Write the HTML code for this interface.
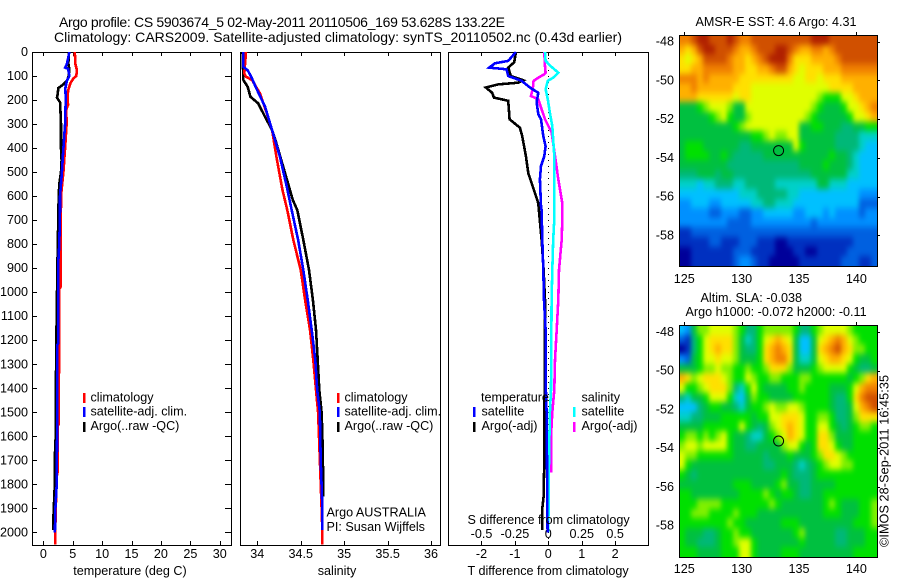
<!DOCTYPE html>
<html>
<head>
<meta charset="utf-8">
<title>Argo profile</title>
<style>
html,body{margin:0;padding:0;background:#fff;}
svg{display:block;}
text{font-family:"Liberation Sans",sans-serif;font-size:12.6px;fill:#000;}
.t{font-size:14px;}
</style>
</head>
<body>
<svg id="chart" xmlns="http://www.w3.org/2000/svg" width="900" height="580" viewBox="0 0 900 580">
<defs>
<filter id="mapBlur" color-interpolation-filters="sRGB" x="-5%" y="-5%" width="110%" height="110%"><feGaussianBlur stdDeviation="2.4 3.2"/></filter>
<clipPath id="clip-sst-map"><rect x="679" y="35" width="198" height="231"/></clipPath>
<clipPath id="clip-sla-map"><rect x="679" y="325" width="198" height="232"/></clipPath>
</defs>
<text class="t" x="59" y="27" textLength="446">Argo profile: CS 5903674_5 02-May-2011 20110506_169 53.628S 133.22E</text>
<text class="t" x="54" y="42" textLength="568">Climatology: CARS2009. Satellite-adjusted climatology: synTS_20110502.nc (0.43d earlier)</text>
<g id="maps"></g>
<g id="panels"></g>
<g>
<text x="90.5" y="401.5">climatology</text>
<text x="90.5" y="415.5">satellite-adj. clim.</text>
<text x="90.5" y="430">Argo(..raw -QC)</text>
<rect x="83" y="393" width="2.5" height="10" fill="#f00"/>
<rect x="83" y="407" width="2.5" height="10" fill="#00f"/>
<rect x="83" y="422" width="2.5" height="10" fill="#000"/>
</g>
<g>
<text x="344.5" y="401.5">climatology</text>
<text x="344.5" y="415.5">satellite-adj. clim.</text>
<text x="344.5" y="430">Argo(..raw -QC)</text>
<rect x="337" y="393" width="2.5" height="10" fill="#f00"/>
<rect x="337" y="407" width="2.5" height="10" fill="#00f"/>
<rect x="337" y="422" width="2.5" height="10" fill="#000"/>
<text x="326.5" y="516.5">Argo AUSTRALIA</text>
<text x="326.5" y="531">PI: Susan Wijffels</text>
</g>
<g>
<text x="481" y="401.5">temperature</text>
<text x="481.5" y="415.5">satellite</text>
<text x="481.5" y="430">Argo(-adj)</text>
<rect x="473" y="407" width="2.5" height="10" fill="#00f"/>
<rect x="473" y="422" width="2.5" height="10" fill="#000"/>
<text x="581.5" y="401.5">salinity</text>
<text x="581.5" y="415.5">satellite</text>
<text x="581.5" y="430">Argo(-adj)</text>
<rect x="573" y="407" width="2.5" height="10" fill="#0ff"/>
<rect x="573" y="422" width="2.5" height="10" fill="#f0f"/>
<text x="467.5" y="524">S difference from climatology</text>
</g>
<text x="130" y="575" text-anchor="middle">temperature (deg C)</text>
<text x="337" y="575" text-anchor="middle">salinity</text>
<text x="467.5" y="575">T difference from climatology</text>
<text x="776" y="26" text-anchor="middle">AMSR-E SST: 4.6 Argo: 4.31</text>
<text x="700.5" y="302">Altim. SLA: -0.038</text>
<text x="685.5" y="316">Argo h1000: -0.072 h2000: -0.11</text>
<text x="0" y="0" textLength="172" transform="translate(888.5,547) rotate(-90)">©IMOS 28-Sep-2011 16:45:35</text>
</svg>
<script>
// ---- depth axis ----
const depthTicks = [0,100,200,300,400,500,600,700,800,900,1000,1100,1200,1300,1400,1500,1600,1700,1800,1900,2000];
// ---- temperature panel ----
const tempTicks = [0,5,10,15,20,25,30];
const tempClimDepth = [0,50,75,100,110,130,160,200,220,240,300,400,500,600,978,985,1250,1500,1550,1560,1750,1770,2000,2050];
const tempClim = [5.35,5.45,5.7,5.6,5.1,4.6,4.2,4.1,4.2,3.9,3.95,3.7,3.4,3.0,2.94,2.7,2.67,2.6,2.6,2.4,2.4,2.25,2.0,2.0];
const tempSatDepth = [0,50,65,70,100,120,150,200,300,400,500,600,660,800,866,1212,1220,1490,1800,1900,2000];
const tempSat = [4.43,4.0,3.7,4.2,4.43,4.0,3.74,3.8,3.7,3.4,3.14,2.83,2.83,2.7,2.55,2.55,2.37,2.37,2.27,2.05,1.95];
const tempArgoDepth = [0,50,70,100,120,135,150,180,190,210,300,400,450,500,550,600,866,1212,1500,1600,1700,1810,1940,1990];
const tempArgo = [4.3,4.25,4.4,4.3,4.0,3.4,2.56,2.4,2.3,2.85,3.0,3.0,3.1,3.0,2.7,2.6,2.4,2.2,2.09,2.09,1.92,1.92,1.7,1.7];
// ---- salinity panel ----
const salTicks = [34,34.5,35,35.5,36];
const salClimDepth = [0,89,103,117,172,256,325,436,575,658,782,907,1032,1157,1282,1407,1500,1600,1750,1900,2000,2050];
const salClim = [33.87,33.85,33.87,33.94,34.03,34.11,34.17,34.22,34.29,34.345,34.415,34.5,34.55,34.607,34.645,34.676,34.70,34.71,34.725,34.74,34.75,34.75];
const salSatDepth = [0,62,76,103,145,228,325,436,561,658,782,907,1032,1157,1282,1407,1500,1700,1900,1990];
const salSat = [33.84,33.84,33.89,33.93,33.98,34.09,34.17,34.26,34.34,34.396,34.47,34.53,34.58,34.626,34.668,34.69,34.72,34.73,34.75,34.75];
const salArgoDepth = [0,117,145,186,214,270,325,367,505,617,658,782,907,1032,1157,1282,1407,1500,1600,1800,1850];
const salArgo = [33.83,33.84,33.89,33.92,34.01,34.09,34.17,34.21,34.32,34.41,34.46,34.53,34.595,34.64,34.676,34.695,34.714,34.74,34.75,34.76,34.76];
// ---- difference panel ----
const diffTTicks = [-2,-1,0,1,2];
const diffSTicks = ["-0.5","-0.25","0","0.25","0.5"];
const diffSatDepth = [0,37,47,65,72,100,120,148,170,210,258,280,350,392,433,475,530,641,658,782,907,1032,1157,1366,1500,1700,1900,2000];
const diffTSat = [-0.97,-1.2,-1.6,-1.77,-1.25,-1.2,-0.8,-0.55,-0.3,-0.35,-0.3,-0.22,-0.15,-0.08,-0.12,-0.22,-0.25,-0.22,-0.2,-0.18,-0.15,-0.13,-0.08,-0.08,-0.05,-0.04,-0.03,-0.02];
const diffArgoDepth = [0,43,65,100,118,128,135,148,170,190,203,280,315,350,433,505,561,630,658,782,907,1032,1366,1500,1700,1850,1900,1990];
const diffTArgo = [-0.97,-1.02,-1.2,-1.12,-0.75,-0.9,-1.5,-1.87,-1.68,-1.63,-1.2,-1.16,-0.85,-0.78,-0.67,-0.6,-0.46,-0.3,-0.28,-0.2,-0.14,-0.1,-0.1,-0.12,-0.12,-0.14,-0.18,-0.18];
const diffSSatDepth = [0,37,60,86,107,120,155,197,253,308,433,697,782,907,1032,1407,1500,1700,2000];
const diffSSat = [-0.025,-0.02,0.02,0.075,0.037,-0.004,-0.02,-0.004,0.012,0.03,0.045,0.045,0.037,0.03,0.025,0.02,0.012,0.005,0.0];
const diffSArgoDepth = [0,60,86,93,107,120,155,183,197,238,280,335,433,530,630,697,782,907,1032,1157,1282,1407,1500,1600,1750];
const diffSArgo = [-0.03,-0.025,-0.02,-0.03,-0.075,-0.11,-0.117,-0.13,-0.075,-0.05,-0.025,0.025,0.05,0.075,0.105,0.105,0.1,0.08,0.075,0.063,0.05,0.045,0.03,0.02,0.02];
// ---- map axes ----
const mapLonTicks = [125,130,135,140];
const mapLatTicks = [-48,-50,-52,-54,-56,-58];
const argoLon = 133.22;
const argoLat = -53.628;
// ---- map values: colour level per grid cell, north to south ----
const sstLevels = [
[13,13,14,15,15,14,14,14,15,14,13,13,14,14,14,14,14,14,14,14,14,14,15,15,15,14,14,14,14,14,14,14,14],
[12,11,12,14,15,15,14,14,14,13,12,12,13,14,14,14,15,15,14,13,12,12,13,13,12,13,14,14,14,14,14,14,14],
[11,10,11,12,14,14,14,14,13,12,12,11,12,13,14,15,15,15,13,11,11,11,12,12,12,12,13,14,14,14,14,14,14],
[11,11,12,12,13,13,13,13,13,12,12,11,11,12,12,13,14,14,12,11,10,11,11,11,12,12,12,13,13,13,13,13,13],
[13,13,13,12,13,12,12,12,12,12,11,11,11,11,11,11,11,11,11,10,10,11,11,10,11,11,11,12,12,12,12,12,12],
[12,12,13,12,12,12,12,12,12,11,11,11,10,10,10,10,10,10,10,10,10,10,10,10,10,11,11,11,11,12,12,12,12],
[12,12,12,11,11,11,11,11,11,10,11,11,10,10,10,10,10,10,10,10,10,10,10,9,8,8,8,10,10,11,12,12,12],
[7,7,7,8,9,10,10,10,9,7,7,10,10,10,10,10,10,10,10,10,10,10,9,8,7,7,7,8,10,10,11,12,13],
[7,7,7,7,7,8,9,10,8,7,7,9,10,10,10,10,10,10,10,10,10,9,8,7,7,7,7,7,8,10,10,11,12],
[7,7,7,7,7,7,7,7,7,8,9,10,10,10,10,10,10,10,10,10,7,7,8,8,7,7,7,6,6,7,7,8,8],
[7,7,7,7,7,7,7,7,7,7,7,7,8,8,9,10,9,9,10,10,7,7,7,7,7,7,6,6,6,6,5,5,5],
[7,8,8,8,7,7,7,7,7,7,6,6,7,7,7,7,7,7,7,10,8,7,7,7,7,7,6,6,6,6,5,4,4],
[7,8,8,8,8,7,7,8,7,6,6,6,6,6,7,7,7,7,7,7,7,7,7,7,7,8,7,7,6,5,4,4,4],
[7,7,7,7,7,7,7,7,6,6,6,6,6,6,6,6,6,6,6,6,7,7,7,7,8,7,7,7,6,5,4,4,4],
[6,6,6,7,7,7,6,7,7,6,6,6,6,6,6,6,6,6,6,6,6,6,7,7,7,7,7,7,5,5,4,4,4],
[5,5,5,4,5,5,6,6,6,5,5,6,6,6,6,6,5,5,5,5,5,5,5,7,7,5,5,5,4,4,4,4,4],
[4,4,4,4,4,4,4,4,4,4,5,5,5,6,6,6,6,6,5,5,4,4,4,4,4,4,4,4,4,4,3,3,3],
[3,3,4,4,4,3,3,4,4,4,4,4,5,5,6,6,5,5,5,4,4,4,4,4,4,4,4,4,4,4,2,2,2],
[3,3,3,3,3,2,2,3,3,3,2,2,3,3,4,4,4,4,4,3,3,4,4,4,3,4,3,3,3,3,2,3,3],
[3,3,3,3,3,3,3,3,2,2,2,2,3,3,3,3,3,3,3,3,3,3,2,3,3,3,3,3,3,3,3,3,3],
[1,1,2,2,2,2,2,2,2,2,2,2,2,2,2,2,2,2,2,2,2,2,2,2,2,2,2,2,2,2,2,2,2],
[1,1,1,1,1,2,2,1,1,1,2,2,2,1,1,1,0,0,1,1,1,1,1,1,1,1,1,1,1,2,2,2,2],
[0,0,1,1,1,1,1,1,1,2,2,2,1,1,1,1,0,0,0,1,1,0,0,1,1,1,1,1,2,2,2,2,2],
[0,0,1,1,1,1,1,1,1,2,3,3,2,1,1,0,0,0,0,0,1,1,1,1,1,1,1,2,2,2,1,1,2]
];
const slaLevels = [
[4,3,7,9,9,10,10,10,10,9,8,6,6,8,9,9,9,9,9,8,6,6,8,9,10,10,10,10,9,8,8,8,8],
[2,1,6,8,10,11,11,11,11,9,7,5,6,8,10,11,12,11,10,7,4,4,7,10,11,12,13,12,10,9,8,8,8],
[0,1,6,8,10,11,12,11,11,9,7,6,6,8,11,12,13,12,11,7,4,4,7,11,12,13,14,12,11,9,9,8,8],
[3,2,7,8,10,10,11,10,10,9,7,7,7,8,11,12,13,13,11,7,5,5,7,10,11,12,12,11,10,8,7,7,8],
[7,7,7,8,9,9,10,9,9,8,8,9,8,8,9,11,11,11,9,7,7,7,8,9,10,10,10,10,8,7,6,6,7],
[12,11,9,10,11,11,11,10,9,8,8,10,9,8,8,9,9,8,8,8,9,9,8,8,8,8,8,8,7,8,9,11,12],
[10,8,8,9,10,11,11,11,9,6,5,8,10,8,7,7,7,7,8,8,9,8,8,8,8,7,7,7,8,10,12,13,13],
[6,5,7,7,8,10,10,10,8,5,4,7,9,8,8,7,7,7,7,8,8,8,8,8,8,7,6,6,8,11,13,14,14],
[4,4,4,6,7,8,8,7,7,6,5,7,8,8,9,10,9,9,10,10,9,8,8,8,8,7,6,6,7,10,12,13,14],
[5,5,6,6,7,7,7,8,8,8,8,8,7,8,8,10,10,11,11,11,10,8,8,9,9,8,6,6,7,9,11,11,11],
[7,7,7,7,8,8,8,8,8,8,10,8,7,6,7,9,10,11,12,11,10,8,8,10,10,8,7,6,7,8,9,9,8],
[8,9,9,8,9,8,9,10,8,7,7,6,5,5,7,8,9,10,12,11,10,8,8,11,11,9,7,7,7,8,8,8,8],
[9,10,10,9,10,10,10,10,8,7,7,6,6,7,7,7,7,9,10,10,8,7,8,11,11,10,8,7,7,8,8,8,8],
[10,9,9,8,8,8,8,8,8,7,7,7,7,7,6,7,7,7,8,7,7,7,8,9,11,11,10,9,8,8,8,8,8],
[10,8,7,7,7,7,7,7,7,7,7,7,7,7,6,6,7,7,7,6,5,6,7,8,9,10,10,9,9,8,8,8,8],
[8,7,6,7,7,7,7,7,7,7,7,7,7,7,7,7,7,8,7,6,6,6,7,8,8,8,8,8,8,8,8,8,8],
[7,7,7,7,7,7,7,7,7,8,8,8,7,7,7,7,8,9,7,7,6,6,7,7,7,7,8,8,8,8,8,8,8],
[8,8,7,7,7,7,7,7,7,7,8,8,8,8,9,8,7,8,8,7,6,6,7,7,8,8,8,8,8,8,8,8,8],
[8,8,8,9,9,9,9,8,8,8,8,8,8,8,8,9,8,7,7,7,7,7,7,7,8,9,8,7,7,7,8,8,9],
[8,8,9,9,9,8,8,8,8,9,8,8,8,7,7,7,7,7,7,7,7,7,7,7,8,8,8,7,7,7,8,8,9],
[8,8,8,8,8,8,8,8,9,8,8,7,7,7,7,7,7,8,8,8,7,7,7,7,7,7,7,7,7,8,8,8,9],
[8,7,7,7,6,6,7,8,8,9,8,8,7,7,7,7,7,7,7,8,9,7,7,7,7,7,6,6,7,7,7,8,8],
[8,7,7,6,6,6,7,8,8,9,10,10,8,7,7,7,7,7,7,7,8,7,7,7,7,7,6,6,7,7,7,8,8],
[8,8,8,7,7,7,7,8,8,8,10,10,8,7,7,7,7,8,8,8,7,7,7,7,7,7,7,7,7,8,8,8,8]
];
const levelColors = ["#00009a","#0030c0","#0060e0","#0090ff","#00c0ff","#00d0c8","#00b878","#00c040","#00e000","#80f000","#e0ff00","#ffe000","#ffb000","#f08000","#d05000","#b02000"];

const NS = "http://www.w3.org/2000/svg";
const panelsG = document.getElementById("panels");
const mapsG = document.getElementById("maps");
function mk(tag, attrs, parent){
  const e = document.createElementNS(NS, tag);
  for (const k in attrs) e.setAttribute(k, attrs[k]);
  parent.appendChild(e);
  return e;
}
const PT = 52, PB = 545;
function yDepth(d){ return 52 + d * 0.2402; }
const xTemp = v => 43.4 + v * 5.877;
const xSal = v => 257.3 + (v - 34) * 86.85;
const xDiffT = v => 548.3 + v * 33.4;
const xDiffS = v => 548.3 + v * 133.6;

function frame(name, l, r, t, b){
  const e = mk("rect", {x:l+0.5, y:t+0.5, width:r-l, height:b-t, fill:"none", stroke:"#000", "stroke-width":1, "shape-rendering":"crispEdges"}, panelsG);
  
  
}
function line(name, x1, y1, x2, y2, parent){
  const e = mk("line", {x1:x1, y1:y1, x2:x2, y2:y2, stroke:"#000", "stroke-width":1, "shape-rendering":"crispEdges"}, parent);
  
  
  return e;
}
function label(name, txt, x, y, anchor, parent){
  const e = mk("text", {x:x, y:y, "text-anchor":anchor}, parent);
  e.textContent = txt;
  
  
}
function profile(name, depths, values, xf, color, w){
  const pts = depths.map((d, i) => xf(values[i]).toFixed(1) + "," + yDepth(d).toFixed(1)).join(" ");
  const e = mk("polyline", {points:pts, fill:"none", stroke:color, "stroke-width":w, "stroke-linejoin":"miter", "shape-rendering":"crispEdges"}, panelsG);
  
  
}
function xTicks(name, ticks, xf, labelY, labels){
  ticks.forEach((v, i) => {
    const x = Math.round(xf(v)) + 0.5;
    line(name + "-tick-top", x, PT, x, PT + 4, panelsG);
    line(name + "-tick-bottom", x, PB, x, PB - 4, panelsG);
    label(name + "-tick-label", labels ? labels[i] : String(v), xf(v), labelY, "middle", panelsG);
  });
}

frame("temperature-panel-frame", 32, 231, PT, PB);
frame("salinity-panel-frame", 240, 440, PT, PB);
frame("difference-panel-frame", 448, 648, PT, PB);

depthTicks.forEach(d => {
  const y = Math.round(yDepth(d)) + 0.5;
  if (d > 0) {
    line("depth-tick-right", 231, y, 225, y, panelsG);
    line("depth-tick-left", 32, y, 37, y, panelsG);
  }
  label("depth-tick-label", String(d), 28, yDepth(d) + 4, "end", panelsG);
});
xTicks("temperature-axis", tempTicks, xTemp, 558);
xTicks("salinity-axis", salTicks, xSal, 558);
xTicks("t-difference-axis", diffTTicks, xDiffT, 558);
diffSTicks.forEach(s => label("s-difference-tick-label", s, xDiffS(parseFloat(s)), 538, "middle", panelsG));

const zeroLine = line("zero-difference-line", 548.5, PT, 548.5, PB, panelsG);
zeroLine.setAttribute("stroke-dasharray", "1 5");

profile("temperature-climatology-line", tempClimDepth, tempClim, xTemp, "#f00", 2.6);
profile("temperature-argo-line", tempArgoDepth, tempArgo, xTemp, "#000", 2.6);
profile("temperature-satellite-line", tempSatDepth, tempSat, xTemp, "#00f", 2.6);
profile("salinity-argo-line", salArgoDepth, salArgo, xSal, "#000", 2.6);
profile("salinity-climatology-line", salClimDepth, salClim, xSal, "#f00", 2.6);
profile("salinity-satellite-line", salSatDepth, salSat, xSal, "#00f", 2.6);
profile("difference-t-argo-line", diffArgoDepth, diffTArgo, xDiffT, "#000", 2.6);
profile("difference-s-argo-line", diffSArgoDepth, diffSArgo, xDiffS, "#f0f", 2.6);
profile("difference-s-satellite-line", diffSSatDepth, diffSSat, xDiffS, "#0ff", 2.6);
profile("difference-t-satellite-line", diffSatDepth, diffTSat, xDiffT, "#00f", 2.6);

// maps
const ML = 679, MR = 877;
function xLon(lon){ return 684.3 + (lon - 125) * 11.47; }
function drawMap(name, levels, top, bottom, lat48y, labelY){
  const yLat = lat => lat48y + (-48 - lat) * 19.37;
  const nRows = levels.length;
  const latN = -48 + (lat48y - top) / 19.37;
  const latS = -48 + (lat48y - bottom) / 19.37;
  const lonW = 125 + (ML - 684.3) / 11.47;
  const lonE = 125 + (MR - 684.3) / 11.47;
  const clipG = mk("g", {"clip-path":"url(#clip-" + name + ")"}, mapsG);
  
  
  const cellsG = mk("g", {filter:"url(#mapBlur)"}, clipG);
  levels.forEach((row, r) => {
    const la1 = latN + (latS - latN) * r / nRows;
    const la2 = latN + (latS - latN) * (r + 1) / nRows;
    let y1 = Math.round(yLat(la1)), y2 = Math.round(yLat(la2));
    if (r === 0) y1 -= 14;
    if (r === nRows - 1) y2 += 14;
    row.forEach((lv, c) => {
      const lo1 = lonW + (lonE - lonW) * c / row.length;
      const lo2 = lonW + (lonE - lonW) * (c + 1) / row.length;
      let x1 = Math.round(xLon(lo1)), x2 = Math.round(xLon(lo2));
      if (c === 0) x1 -= 14;
      if (c === row.length - 1) x2 += 14;
      const cell = mk("rect", {x:x1, y:y1, width:x2 - x1, height:y2 - y1, fill:levelColors[lv], "shape-rendering":"crispEdges"}, cellsG);
      
      
    });
  });
  const f = mk("rect", {x:ML + 0.5, y:top + 0.5, width:MR - ML, height:bottom - top, fill:"none", stroke:"#000", "shape-rendering":"crispEdges"}, mapsG);
  
  
  mapLonTicks.forEach(lon => {
    const x = Math.round(xLon(lon)) + 0.5;
    line(name + "-lon-tick", x, top, x, top - 3, mapsG);
    label(name + "-lon-label", String(lon), xLon(lon), labelY, "middle", mapsG);
  });
  mapLatTicks.forEach(lat => {
    const y = Math.round(yLat(lat)) + 0.5;
    line(name + "-lat-tick", MR, y, MR + 3, y, mapsG);
    label(name + "-lat-label", String(lat), 674, yLat(lat) + 4, "end", mapsG);
  });
  const m = mk("circle", {cx:xLon(argoLon), cy:yLat(argoLat), r:5, fill:"none", stroke:"#000", "stroke-width":1}, mapsG);
  
  
}
drawMap("sst-map", sstLevels, 35, 266, 41.6, 283);
drawMap("sla-map", slaLevels, 325, 557, 332, 573);
</script>
</body>
</html>
